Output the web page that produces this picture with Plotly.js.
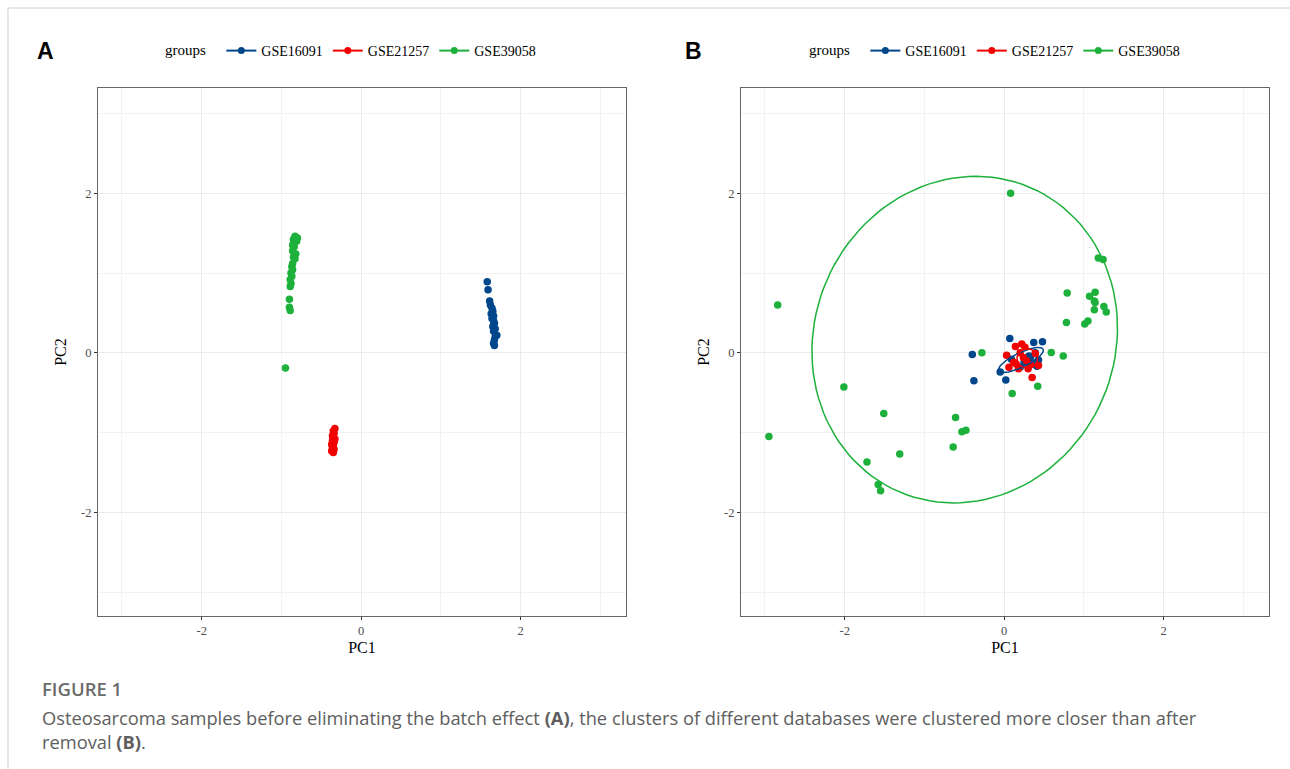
<!DOCTYPE html>
<html><head><meta charset="utf-8">
<script src="https://cdn.plot.ly/plotly-3.0.1.min.js"></script>
<style>html,body{margin:0;padding:0;background:#fff;}#chart{width:1290px;height:769px;}</style>
</head><body><div id="chart"></div>
<script>
// ---- Data ----
const groups = ['GSE16091', 'GSE21257', 'GSE39058'];
const colors = ['#00468B', '#F20000', '#1DB13C'];

// Panel A (before batch removal)
const A_GSE16091_x = [1.58,1.59,1.61,1.62,1.64,1.65,1.63,1.66,1.64,1.66,1.67,1.65,1.68,1.66,1.70,1.68,1.67,1.66,1.67];
const A_GSE16091_y = [0.89,0.79,0.65,0.60,0.56,0.52,0.49,0.46,0.43,0.40,0.37,0.33,0.30,0.27,0.22,0.20,0.16,0.12,0.09];
const A_GSE21257_x = [-0.33,-0.35,-0.34,-0.36,-0.35,-0.33,-0.36,-0.34,-0.37,-0.35,-0.36,-0.34,-0.37,-0.35];
const A_GSE21257_y = [-0.95,-0.98,-1.01,-1.04,-1.06,-1.08,-1.10,-1.12,-1.15,-1.17,-1.19,-1.21,-1.23,-1.25];
const A_GSE39058_x = [-0.83,-0.80,-0.85,-0.81,-0.86,-0.84,-0.86,-0.82,-0.85,-0.83,-0.86,-0.87,-0.86,-0.88,-0.87,-0.89,-0.88,-0.89,-0.90,-0.90,-0.89,-0.95];
const A_GSE39058_y = [1.46,1.44,1.42,1.40,1.35,1.33,1.28,1.24,1.20,1.18,1.12,1.08,1.04,1.00,0.96,0.92,0.87,0.83,0.67,0.57,0.53,-0.19];

// Panel B (after batch removal)
const B_GSE16091_x = [0.07,0.48,0.37,-0.40,-0.38,-0.05,0.02,0.09,0.28,0.33,0.43,0.39,0.20,0.41,0.25,0.31,0.36];
const B_GSE16091_y = [0.18,0.14,0.13,-0.02,-0.35,-0.24,-0.34,-0.08,-0.08,-0.06,-0.09,0.00,-0.18,-0.17,-0.12,-0.04,-0.14];
const B_GSE21257_x = [0.14,0.22,0.03,0.06,0.35,0.43,0.26,0.30,0.15,0.39,0.24,0.12,0.33,0.20,0.28,0.18];
const B_GSE21257_y = [0.08,0.11,-0.03,-0.18,-0.31,-0.16,0.07,-0.20,-0.14,-0.01,-0.06,-0.12,-0.15,0.00,-0.10,-0.20];
const B_GSE39058_x = [0.08,1.18,1.24,-2.84,0.79,1.07,1.14,1.13,1.14,1.13,1.25,1.28,0.78,1.01,1.05,-0.28,0.59,0.74,0.10,0.42,-2.01,-2.95,-1.51,-0.61,-0.53,-0.48,-0.64,-1.31,-1.72,-1.58,-1.55];
const B_GSE39058_y = [2.00,1.19,1.17,0.60,0.75,0.71,0.76,0.65,0.63,0.54,0.58,0.51,0.38,0.36,0.40,0.00,0.005,-0.04,-0.51,-0.42,-0.43,-1.05,-0.76,-0.81,-0.99,-0.97,-1.18,-1.27,-1.37,-1.65,-1.73];

// Confidence-ellipse geometry: centre and axis vectors
const B_ellipses = [
  {group: 0, cx: 0.21, cy: -0.09, ax: 0.28, ay: 0.135, bx: -0.04, by: 0.08},
  {group: 1, cx: 0.29, cy: -0.07, ax: 0.13, ay: 0.0, bx: 0.0, by: 0.12},
  {group: 2, cx: -0.495, cy: 0.165, ax: 1.915, ay: 0.10, bx: 0.045, by: 2.045}
];

const tickVals = [-2, 0, 2];
const tickText = ['-2', '0', '2'];
const minorVals = [-3, -1, 1, 3];
const axisRange = [-3.3, 3.32];

// ---- Build traces ----
function ellipsePts(e) {
  const xs = [], ys = [];
  for (let i = 0; i <= 120; i++) {
    const t = 2 * Math.PI * i / 120;
    xs.push(e.cx + e.ax * Math.cos(t) + e.bx * Math.sin(t));
    ys.push(e.cy + e.ay * Math.cos(t) + e.by * Math.sin(t));
  }
  return {xs, ys};
}

const mk = (c) => ({color: c, size: 7.5});
const traces = [];
const Adata = [[A_GSE16091_x, A_GSE16091_y], [A_GSE21257_x, A_GSE21257_y], [A_GSE39058_x, A_GSE39058_y]];
const Bdata = [[B_GSE16091_x, B_GSE16091_y], [B_GSE21257_x, B_GSE21257_y], [B_GSE39058_x, B_GSE39058_y]];

Adata.forEach((d, i) => traces.push({type: 'scatter', mode: 'markers', x: d[0], y: d[1], xaxis: 'x', yaxis: 'y',
  marker: mk(colors[i]), showlegend: false, hoverinfo: 'x+y'}));
Bdata.forEach((d, i) => traces.push({type: 'scatter', mode: 'markers', x: d[0], y: d[1], xaxis: 'x2', yaxis: 'y2',
  marker: mk(colors[i]), showlegend: false, hoverinfo: 'x+y'}));
B_ellipses.forEach(e => {
  const p = ellipsePts(e);
  traces.push({type: 'scatter', mode: 'lines', x: p.xs, y: p.ys, xaxis: 'x2', yaxis: 'y2',
    line: {color: colors[e.group], width: 1.5}, showlegend: false, hoverinfo: 'skip'});
});
// legend entries
groups.forEach((g, i) => {
  traces.push({type: 'scatter', mode: 'lines+markers', x: [null], y: [null], xaxis: 'x', yaxis: 'y', name: g,
    legend: 'legend', line: {color: colors[i], width: 2}, marker: {color: colors[i], size: 7}});
  traces.push({type: 'scatter', mode: 'lines+markers', x: [null], y: [null], xaxis: 'x2', yaxis: 'y2', name: g,
    legend: 'legend2', line: {color: colors[i], width: 2}, marker: {color: colors[i], size: 7}});
});

const W = 1290, H = 769;
const px = v => v / W, py = v => 1 - v / H;
const serif = 'Liberation Serif, Times New Roman, serif';

function axis(domain, anchor, title, isY) {
  return {
    domain: domain, anchor: anchor, range: axisRange, autorange: false,
    tickmode: 'array', tickvals: tickVals, ticktext: tickText,
    ticks: 'outside', ticklen: 3, tickwidth: 1, tickcolor: '#333',
    tickfont: {family: serif, size: 12.5, color: '#4d4d4d'},
    showgrid: true, gridcolor: '#ebebeb', gridwidth: 1.4,
    minor: {tickmode: 'array', tickvals: minorVals, showgrid: true, gridcolor: '#f2f2f2', gridwidth: 1, ticks: ''},
    zeroline: false, showline: true, mirror: true, linecolor: '#666', linewidth: 1,
    title: {text: title, font: {family: serif, size: 16, color: '#000'}, standoff: isY ? 10 : 4},
    fixedrange: true
  };
}

const legendBase = {
  orientation: 'h', yanchor: 'middle', y: py(51), xanchor: 'center',
  font: {family: serif, size: 14, color: '#000'}, bgcolor: 'rgba(0,0,0,0)',
  title: {text: 'groups  ', side: 'left', font: {family: serif, size: 15, color: '#000'}},
  itemwidth: 30, tracegroupgap: 0
};

const layout = {
  width: W, height: H,
  margin: {l: 0, r: 0, t: 0, b: 0, autoexpand: false},
  paper_bgcolor: '#fff', plot_bgcolor: '#fff',
  xaxis: axis([px(98), px(626)], 'y', 'PC1', false),
  yaxis: axis([py(616), py(88)], 'x', 'PC2', true),
  xaxis2: axis([px(741), px(1269)], 'y2', 'PC1', false),
  yaxis2: axis([py(616), py(88)], 'x2', 'PC2', true),
  legend: Object.assign({}, legendBase, {x: px(352)}),
  legend2: Object.assign({}, legendBase, {x: px(996)}),
  showlegend: true,
  annotations: [
    {text: '<b>A</b>', xref: 'paper', yref: 'paper', x: px(35), y: py(51), xanchor: 'left', yanchor: 'middle',
      showarrow: false, font: {family: 'Liberation Sans, Arial, sans-serif', size: 23, color: '#000'}},
    {text: '<b>B</b>', xref: 'paper', yref: 'paper', x: px(683), y: py(51), xanchor: 'left', yanchor: 'middle',
      showarrow: false, font: {family: 'Liberation Sans, Arial, sans-serif', size: 23, color: '#000'}},
    {text: 'FIGURE 1', xref: 'paper', yref: 'paper', x: px(40), y: py(688), xanchor: 'left', yanchor: 'middle',
      showarrow: false, font: {family: 'Open Sans, sans-serif', size: 18.5, color: '#6b6b6b', weight: 600}},
    {text: 'Osteosarcoma samples before eliminating the batch effect <b>(A)</b>, the clusters of different databases were clustered more closer than after<br>removal <b>(B)</b>.',
      xref: 'paper', yref: 'paper', x: px(40), y: py(729), xanchor: 'left', yanchor: 'middle', align: 'left',
      showarrow: false, font: {family: 'Open Sans, sans-serif', size: 18.3, color: '#5e5e5e'}}
  ],
  shapes: [
    {type: 'line', xref: 'paper', yref: 'paper', x0: px(8), x1: 1, y0: py(8), y1: py(8), line: {color: '#d0d0d0', width: 1}},
    {type: 'line', xref: 'paper', yref: 'paper', x0: px(8), x1: px(8), y0: py(8), y1: 0, line: {color: '#d0d0d0', width: 1}}
  ]
};

Plotly.newPlot('chart', traces, layout, {displayModeBar: false, staticPlot: true});
</script></body></html>
